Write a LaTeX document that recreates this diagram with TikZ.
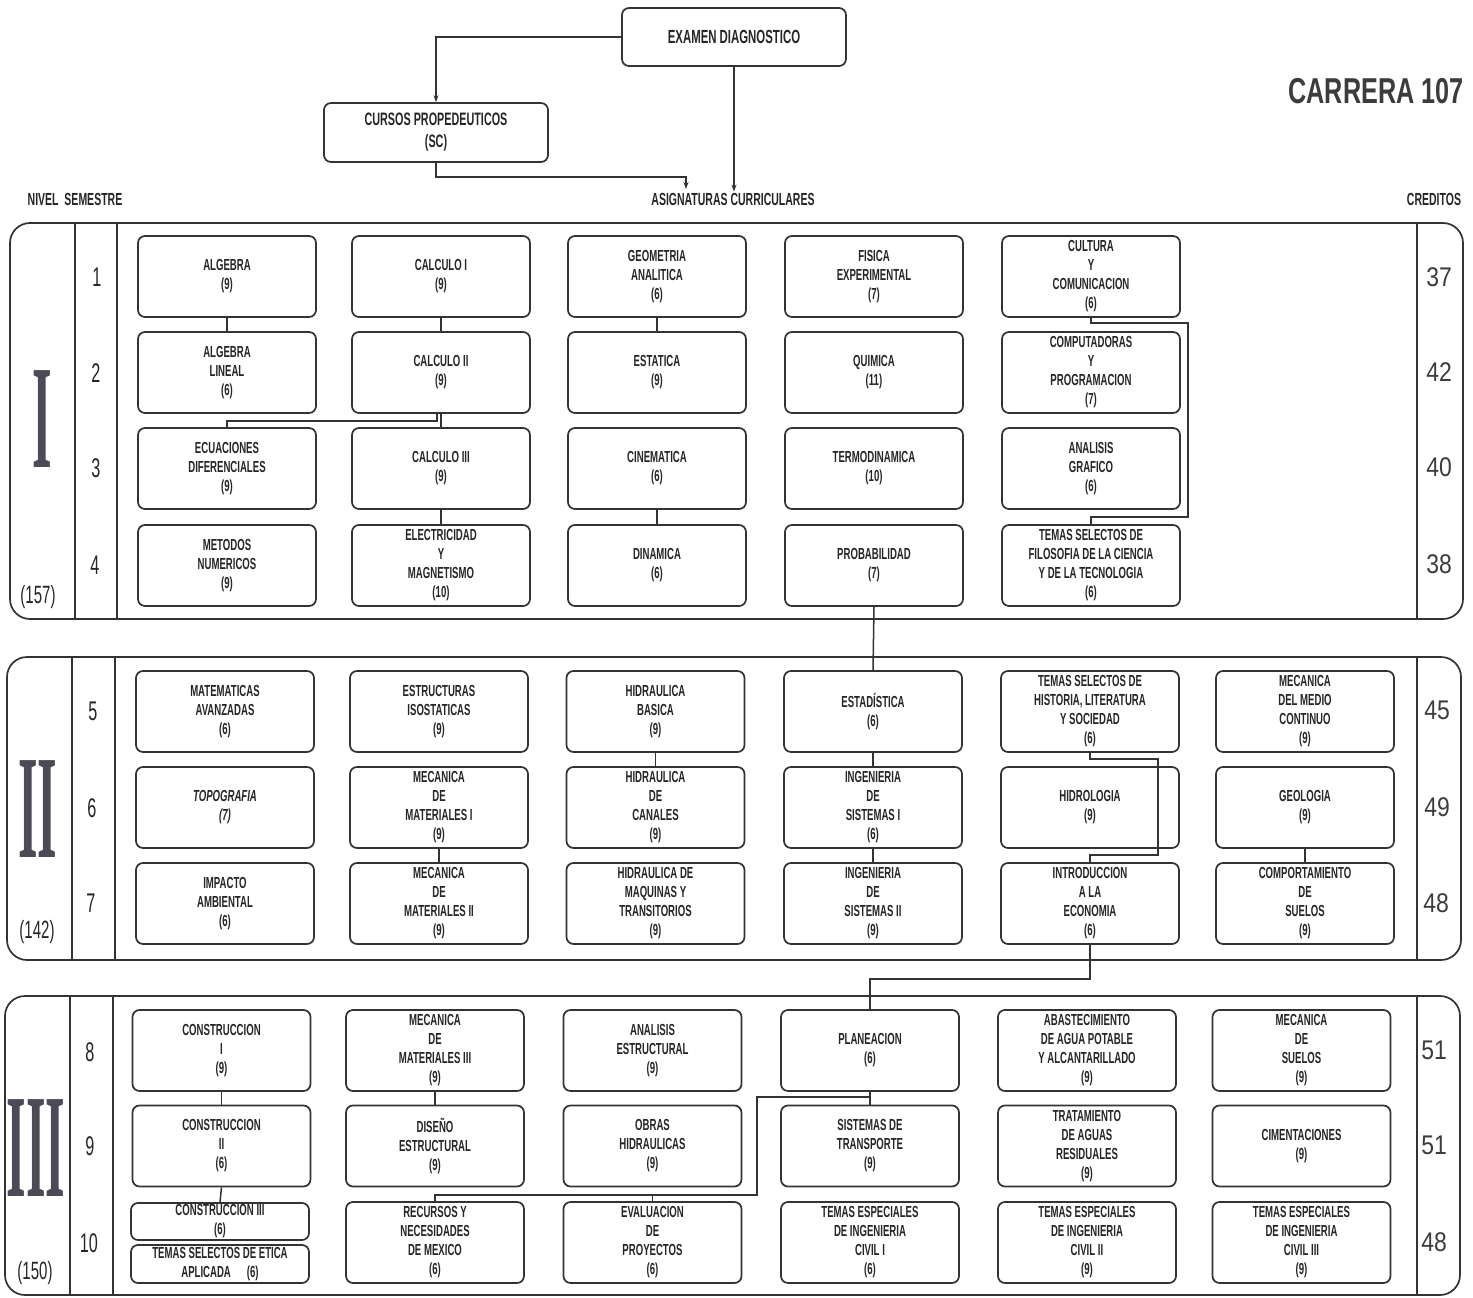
\documentclass[tikz,border=0pt]{standalone}
\usepackage{fontspec}
\setmainfont{Liberation Sans}
\newfontfamily\cf[FakeStretch=0.6]{Liberation Sans}
\newfontfamily\cfw[FakeStretch=0.85]{Liberation Sans}
\newfontfamily\cfb[FakeStretch=0.7]{Liberation Sans}
\newfontfamily\romf[FakeStretch=0.34]{Liberation Serif}
\usetikzlibrary{arrows.meta,calc}
\definecolor{ln}{HTML}{333333}
\definecolor{tx}{HTML}{262626}
\definecolor{rom}{HTML}{4B4B58}
\newcommand\boxfont{\cf\bfseries\fontsize{16}{19}\selectfont}
\tikzset{
  subj/.style={draw=ln, line width=1.7pt, rounded corners=7pt, minimum width=178pt,
    minimum height=81pt, inner sep=0pt, align=center, font=\boxfont, text=tx},
  conn/.style={draw=ln, line width=1.5pt},
  panel/.style={draw=ln, line width=1.7pt, rounded corners=20pt},
  pline/.style={draw=ln, line width=1.4pt},
  hdr/.style={font=\cf\bfseries\fontsize{17.5}{17.5}\selectfont, text=tx, inner sep=1pt},
  semf/.style={font=\cf\fontsize{27}{27}\selectfont, text=tx, inner sep=0pt},
  credf/.style={font=\cfw\fontsize{27}{27}\selectfont, text=tx!90, inner sep=0pt},
  totf/.style={font=\cf\fontsize{25}{25}\selectfont, text=tx, inner sep=0pt},
  romn/.style={font=\romf\bfseries\fontsize{148}{148}\selectfont, text=rom, inner sep=0pt},
  arr/.style={conn, -{Stealth[length=7pt,width=5pt]}},
}
\begin{document}
\begin{tikzpicture}[x=1pt,y=-1pt]
\useasboundingbox (0,0) rectangle (1473,1298);
\fill[white] (0,0) rectangle (1473,1298);

% ---------- top ----------
\node[subj, minimum width=224pt, minimum height=58pt, font=\cf\bfseries\fontsize{19}{22}\selectfont] (exam) at (734,37) {EXAMEN DIAGNOSTICO};
\node[subj, minimum width=224pt, minimum height=59pt, font=\cf\bfseries\fontsize{18}{22}\selectfont] (curs) at (436,132.5) {CURSOS PROPEDEUTICOS\\(SC)};
\node[hdr] (asig) at (733,199) {ASIGNATURAS CURRICULARES};
\node[hdr] (nivel) at (75,199) {NIVEL\ \ SEMESTRE};
\node[hdr] (cred) at (1434,199) {CREDITOS};
\node[font=\cfb\bfseries\fontsize{36}{36}\selectfont, text=tx!90, inner sep=0pt] (carr) at (1376,91) {CARRERA 107};
\coordinate (a2) at (686,189);
\draw[arr] (exam.west) -| (curs.north);
\draw[arr] (exam.south) -- (asig.north -| exam.south);
\draw[arr] (curs.south) -- ++(0,14) -| (a2);

% ---------- panels ----------
\draw[panel] (10,223) rectangle (1463,619);
\draw[pline] (75,223) -- (75,619) (117,223) -- (117,619) (1417,223) -- (1417,619);
\draw[panel] (7,657) rectangle (1461,960);
\draw[pline] (72,657) -- (72,960) (115,657) -- (115,960) (1417,657) -- (1417,960);
\draw[panel] (5,996) rectangle (1460,1295);
\draw[pline] (70,996) -- (70,1295) (113,996) -- (113,1295) (1417,996) -- (1417,1295);

% roman numerals and totals
\node[romn] (r1) at (42,419) {I};
\node[romn] (r2) at (38,809) {II};
\node[romn] (r3) at (36,1148) {III};
\node[totf] (t1) at (38,597) {(157)};
\node[totf] (t2) at (37,932) {(142)};
\node[totf] (t3) at (35,1273) {(150)};

% semesters
\node[semf] (s1) at (97,277) {1};
\node[semf] (s2) at (96,373) {2};
\node[semf] (s3) at (96,468) {3};
\node[semf] (s4) at (95,565) {4};
\node[semf] (s5) at (93,711) {5};
\node[semf] (s6) at (92,808) {6};
\node[semf] (s7) at (91,903) {7};
\node[semf] (s8) at (90,1052) {8};
\node[semf] (s9) at (90,1146) {9};
\node[semf] (s10) at (89,1243) {10};

% credits
\node[credf] (k1) at (1439,277) {37};
\node[credf] (k2) at (1439,372) {42};
\node[credf] (k3) at (1439,467) {40};
\node[credf] (k4) at (1439,564) {38};
\node[credf] (k5) at (1437,710) {45};
\node[credf] (k6) at (1437,807) {49};
\node[credf] (k7) at (1436,903) {48};
\node[credf] (k8) at (1434,1050) {51};
\node[credf] (k9) at (1434,1145) {51};
\node[credf] (k10) at (1434,1242) {48};

% ---------- level I ----------
\node[subj] (alg)  at (227,276.5) {ALGEBRA\\(9)};
\node[subj] (cal1) at (441,276.5) {CALCULO I\\(9)};
\node[subj] (geo)  at (657,276.5) {GEOMETRIA\\ANALITICA\\(6)};
\node[subj] (fis)  at (874,276.5) {FISICA\\EXPERIMENTAL\\(7)};
\node[subj] (cul)  at (1091,276.5) {CULTURA\\Y\\COMUNICACION\\(6)};

\node[subj] (algl) at (227,372.5) {ALGEBRA\\LINEAL\\(6)};
\node[subj] (cal2) at (441,372.5) {CALCULO II\\(9)};
\node[subj] (est)  at (657,372.5) {ESTATICA\\(9)};
\node[subj] (qui)  at (874,372.5) {QUIMICA\\(11)};
\node[subj] (comp) at (1091,372.5) {COMPUTADORAS\\Y\\PROGRAMACION\\(7)};

\node[subj] (ecu)  at (227,468.5) {ECUACIONES\\DIFERENCIALES\\(9)};
\node[subj] (cal3) at (441,468.5) {CALCULO III\\(9)};
\node[subj] (cin)  at (657,468.5) {CINEMATICA\\(6)};
\node[subj] (ter)  at (874,468.5) {TERMODINAMICA\\(10)};
\node[subj] (angr) at (1091,468.5) {ANALISIS\\GRAFICO\\(6)};

\node[subj] (met)  at (227,565.5) {METODOS\\NUMERICOS\\(9)};
\node[subj] (ele)  at (441,565.5) {ELECTRICIDAD\\Y\\MAGNETISMO\\(10)};
\node[subj] (din)  at (657,565.5) {DINAMICA\\(6)};
\node[subj] (pro)  at (874,565.5) {PROBABILIDAD\\(7)};
\node[subj] (tfil) at (1091,565.5) {TEMAS SELECTOS DE\\FILOSOFIA DE LA CIENCIA\\Y DE LA TECNOLOGIA\\(6)};

% ---------- level II ----------
\node[subj] (mav)  at (225,711.5) {MATEMATICAS\\AVANZADAS\\(6)};
\node[subj] (eiso) at (439,711.5) {ESTRUCTURAS\\ISOSTATICAS\\(9)};
\node[subj] (hbas) at (655.5,711.5) {HIDRAULICA\\BASICA\\(9)};
\node[subj] (esta) at (873,711.5) {ESTADÍSTICA\\(6)};
\node[subj] (this) at (1090,711.5) {TEMAS SELECTOS DE\\HISTORIA, LITERATURA\\Y SOCIEDAD\\(6)};
\node[subj] (mmc)  at (1305,711.5) {MECANICA\\DEL MEDIO\\CONTINUO\\(9)};

\node[subj] (top)  at (225,807.5) {\itshape TOPOGRAFIA\\\itshape (7)};
\node[subj] (mm1)  at (439,807.5) {MECANICA\\DE\\MATERIALES I\\(9)};
\node[subj] (hcan) at (655.5,807.5) {HIDRAULICA\\DE\\CANALES\\(9)};
\node[subj] (is1)  at (873,807.5) {INGENIERIA\\DE\\SISTEMAS I\\(6)};
\node[subj] (hidr) at (1090,807.5) {HIDROLOGIA\\(9)};
\node[subj] (geol) at (1305,807.5) {GEOLOGIA\\(9)};

\node[subj] (imp)  at (225,903.5) {IMPACTO\\AMBIENTAL\\(6)};
\node[subj] (mm2)  at (439,903.5) {MECANICA\\DE\\MATERIALES II\\(9)};
\node[subj] (hmaq) at (655.5,903.5) {HIDRAULICA DE\\MAQUINAS Y\\TRANSITORIOS\\(9)};
\node[subj] (is2)  at (873,903.5) {INGENIERIA\\DE\\SISTEMAS II\\(9)};
\node[subj] (ieco) at (1090,903.5) {INTRODUCCION\\A LA\\ECONOMIA\\(6)};
\node[subj] (csue) at (1305,903.5) {COMPORTAMIENTO\\DE\\SUELOS\\(9)};

% ---------- level III ----------
\node[subj] (con1) at (221.5,1050.5) {CONSTRUCCION\\I\\(9)};
\node[subj] (mm3)  at (435,1050.5) {MECANICA\\DE\\MATERIALES III\\(9)};
\node[subj] (aest) at (652.5,1050.5) {ANALISIS\\ESTRUCTURAL\\(9)};
\node[subj] (plan) at (870,1050.5) {PLANEACION\\(6)};
\node[subj] (abas) at (1087,1050.5) {ABASTECIMIENTO\\DE AGUA POTABLE\\Y ALCANTARILLADO\\(9)};
\node[subj] (msue) at (1301.5,1050.5) {MECANICA\\DE\\SUELOS\\(9)};

\node[subj] (con2) at (221.5,1146) {CONSTRUCCION\\II\\(6)};
\node[subj] (dise) at (435,1146) {DISEÑO\\ESTRUCTURAL\\(9)};
\node[subj] (obra) at (652.5,1146) {OBRAS\\HIDRAULICAS\\(9)};
\node[subj] (sist) at (870,1146) {SISTEMAS DE\\TRANSPORTE\\(9)};
\node[subj] (trat) at (1087,1146) {TRATAMIENTO\\DE AGUAS\\RESIDUALES\\(9)};
\node[subj] (cime) at (1301.5,1146) {CIMENTACIONES\\(9)};

\node[subj, minimum height=37pt] (con3) at (220,1221.5) {CONSTRUCCION III\\(6)};
\node[subj, minimum height=38pt] (etic) at (220,1264) {TEMAS SELECTOS DE ETICA\\APLICADA\quad(6)};
\node[subj] (recu) at (435,1242.5) {RECURSOS Y\\NECESIDADES\\DE MEXICO\\(6)};
\node[subj] (eval) at (652.5,1242.5) {EVALUACION\\DE\\PROYECTOS\\(6)};
\node[subj] (tec1) at (870,1242.5) {TEMAS ESPECIALES\\DE INGENIERIA\\CIVIL I\\(6)};
\node[subj] (tec2) at (1087,1242.5) {TEMAS ESPECIALES\\DE INGENIERIA\\CIVIL II\\(9)};
\node[subj] (tec3) at (1301.5,1242.5) {TEMAS ESPECIALES\\DE INGENIERIA\\CIVIL III\\(9)};

% ---------- connectors level I ----------
\draw[conn] (alg) -- (algl);
\draw[conn] (cal1) -- (cal2);
\draw[conn] (cal2) -- (cal3);
\draw[conn] (cal3) -- (ele);
\draw[conn] ($(cal2.south)+(-4,0)$) -- ++(0,7) -| (ecu.north);
\draw[conn] (geo) -- (est);
\draw[conn] (cin) -- (din);
\coordinate (c1) at (1188,517);
\draw[conn] (cul.south) -- ++(0,5) -| (c1) -| (tfil.north);
\draw[conn] (pro.south) -- (esta.north);

% ---------- connectors level II ----------
\draw[conn] (hbas) -- (hcan);
\draw[conn] (mm1) -- (mm2);
\draw[conn] (esta) -- (is1);
\draw[conn] (is1) -- (is2);
\draw[conn] (geol) -- (csue);
\coordinate (c2) at (1158,855);
\draw[conn] (this.south) -- ++(0,6) -| (c2) -| (ieco.north);
\draw[conn] (ieco.south) -- ++(0,34) -| (plan.north);

% ---------- connectors level III ----------
\draw[conn] (con1) -- (con2);
\draw[conn] (con2.south) -- (con3.north);
\draw[conn] (mm3) -- (dise);
\draw[conn] (plan) -- (sist);
\coordinate (j1) at (870,1097);
\coordinate (j2) at (757,1195);
\draw[conn] (j1) -| (j2) -| (recu.north);
\draw[conn] (eval.north) -- (eval.north |- j2);
\end{tikzpicture}
\end{document}
